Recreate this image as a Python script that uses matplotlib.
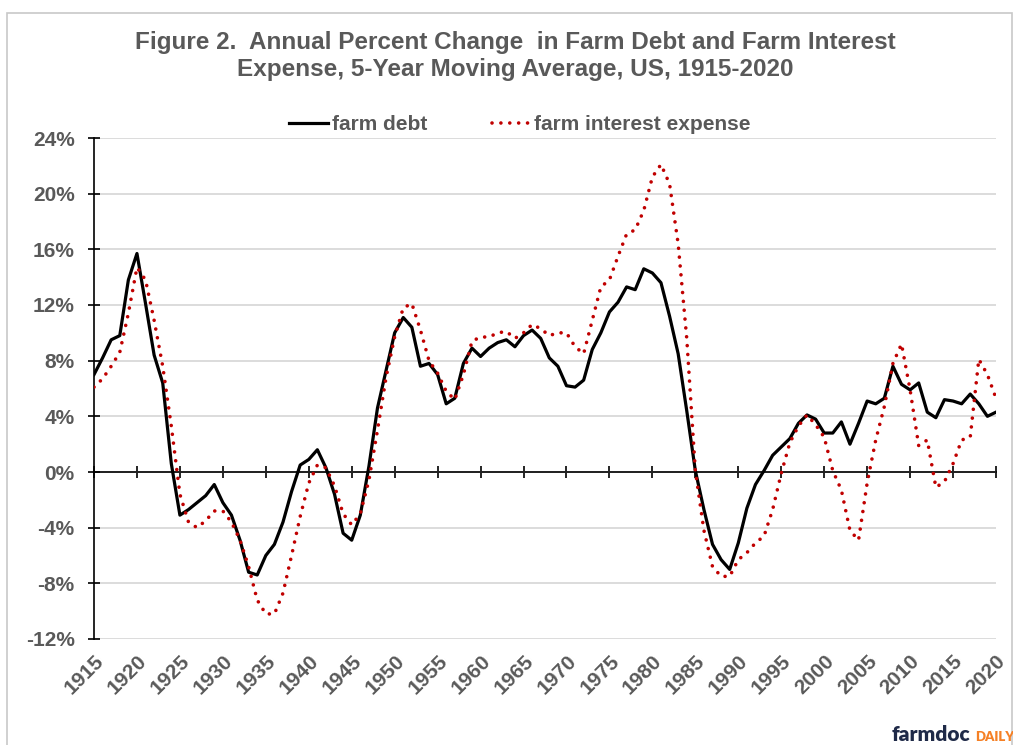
import numpy as np
import matplotlib
matplotlib.use("Agg")
import matplotlib.pyplot as plt
from matplotlib.patches import Rectangle

# data (percent)
years = list(range(1915, 2021))
farm_debt = [
    7.0, 8.2, 9.5, 9.8, 13.8, 15.7, 12.1, 8.4, 6.4, 0.6,      # 1915-1924
    -3.1, -2.7, -2.2, -1.7, -0.9, -2.2, -3.1, -4.9, -7.2, -7.4,  # 1925-1934
    -6.0, -5.2, -3.6, -1.4, 0.5, 0.9, 1.6, 0.3, -1.6, -4.4,    # 1935-1944
    -4.9, -3.1, 0.4, 4.6, 7.3, 10.0, 11.1, 10.4, 7.6, 7.8,     # 1945-1954
    7.0, 4.9, 5.3, 7.8, 8.9, 8.3, 8.9, 9.3, 9.5, 9.0,          # 1955-1964
    9.8, 10.2, 9.6, 8.2, 7.6, 6.2, 6.1, 6.6, 8.8, 10.0,        # 1965-1974
    11.5, 12.2, 13.3, 13.1, 14.6, 14.3, 13.6, 11.2, 8.5, 4.4,  # 1975-1984
    0.1, -2.7, -5.2, -6.3, -7.0, -5.1, -2.6, -0.9, 0.1, 1.2,   # 1985-1994
    1.8, 2.4, 3.5, 4.1, 3.8, 2.8, 2.8, 3.6, 2.0, 3.5,          # 1995-2004
    5.1, 4.9, 5.3, 7.6, 6.3, 5.9, 6.4, 4.3, 3.9, 5.2,          # 2005-2014
    5.1, 4.9, 5.6, 4.9, 4.0, 4.3,                              # 2015-2020
]
farm_interest = [
    6.1, 6.7, 7.6, 8.6, 11.4, 14.7, 13.8, 10.9, 7.6, 3.3,
    -1.6, -3.6, -4.0, -3.5, -2.8, -2.8, -3.6, -4.9, -6.8, -9.2,
    -10.2, -10.2, -8.7, -6.0, -3.2, -0.8, 0.5, 0.3, -1.0, -3.0,
    -3.8, -3.0, -0.6, 3.0, 6.8, 9.7, 11.8, 12.1, 10.2, 8.0,
    7.1, 5.8, 5.2, 7.0, 9.4, 9.7, 9.7, 10.0, 10.1, 9.6,
    10.0, 10.6, 10.3, 9.8, 10.0, 10.0, 9.0, 8.5, 10.9, 13.3,
    13.8, 15.5, 17.1, 17.4, 18.8, 21.2, 22.1, 20.7, 16.4, 9.6,
    0.1, -4.2, -6.8, -7.5, -7.5, -6.3, -5.8, -5.1, -4.6, -2.7,
    -0.1, 2.1, 3.3, 4.1, 3.4, 2.5, 0.1, -1.3, -4.2, -4.9,
    -0.8, 2.3, 4.7, 7.8, 9.2, 5.9, 1.9, 2.3, -1.1, -0.7,
    0.6, 2.3, 2.5, 8.1, 7.0, 5.3,
]
year_ticks = list(range(1915, 2021, 5))
pct_ticks = list(range(-12, 25, 4))

grey = "#595959"
plt.rcParams["font.family"] = ["Liberation Sans", "DejaVu Sans"]
plt.rcParams["font.weight"] = "bold"

W, H = 1013, 745
fig = plt.figure(figsize=(W / 100, H / 100), dpi=100)
ax = fig.add_axes([94 / W, 1 - 639 / H, (996 - 94) / W, (639 - 138) / H])

# chart area border
fig.patches.append(Rectangle((7 / W, -0.1), (1012 - 7) / W, 1.1 - 13 / H,
                             transform=fig.transFigure, fill=False,
                             edgecolor="#c8c8c8", lw=1.2))

ax.plot(years, farm_debt, color="black", lw=2.3, label="farm debt", zorder=3)
ax.plot(years, farm_interest, color="#c00000", lw=2.6,
        linestyle=(0, (0.01, 2.45)), dash_capstyle="round",
        label="farm interest expense", zorder=4)

ax.set_xlim(1915, 2020)
ax.set_ylim(-12, 24)
ax.set_yticks(pct_ticks)
ax.set_yticklabels([f"{t}%" for t in pct_ticks])
ax.set_xticks(year_ticks)
ax.yaxis.grid(True, color="#d9d9d9", lw=1.3, zorder=0)
ax.set_axisbelow(True)

for s in ["top", "right"]:
    ax.spines[s].set_visible(False)
ax.spines["bottom"].set_position(("data", 0))
ax.spines["bottom"].set_linewidth(1.2)
ax.spines["left"].set_linewidth(1.2)

ax.tick_params(axis="x", direction="inout", length=9, width=1.2,
               labelbottom=False)
ax.tick_params(axis="y", direction="inout", length=9, width=1.2,
               pad=9.5, labelsize=15, labelcolor=grey)

# year labels sit at the bottom of the plot
sec = ax.secondary_xaxis(0)
sec.set_xticks(year_ticks)
sec.spines["bottom"].set_visible(False)
sec.tick_params(length=0, pad=9, labelsize=15, labelcolor=grey,
                labelrotation=45)
for lbl in sec.get_xticklabels():
    lbl.set_ha("right")
    lbl.set_va("top")
    lbl.set_rotation_mode("anchor")

leg = ax.legend(loc="center", bbox_to_anchor=(520 / W, 1 - 125 / H),
                bbox_transform=fig.transFigure, ncol=2, frameon=False,
                handlelength=1.85, handletextpad=0.2, columnspacing=3.1,
                prop={"weight": "bold", "size": 15})
for t in leg.get_texts():
    t.set_color(grey)

fig.text(515 / W, 1 - 56 / H,
         "Figure 2.  Annual Percent Change  in Farm Debt and Farm Interest\n"
         "Expense, 5-Year Moving Average, US, 1915-2020",
         ha="center", va="center", fontsize=17.5, fontweight="bold",
         color=grey, linespacing=1.25)

fig.text(892 / W, 1 - 741 / H, "farmdoc", ha="left", va="baseline",
         fontsize=15, fontweight="heavy", color="#1f2a48",
         family=["Lato", "DejaVu Sans"])
fig.text(975 / W, 1 - 741 / H, "DAILY", ha="left", va="baseline",
         fontsize=9.5, fontweight="heavy", color="#f58025",
         family=["Lato", "DejaVu Sans"])

fig.savefig("out.png", dpi=100)
